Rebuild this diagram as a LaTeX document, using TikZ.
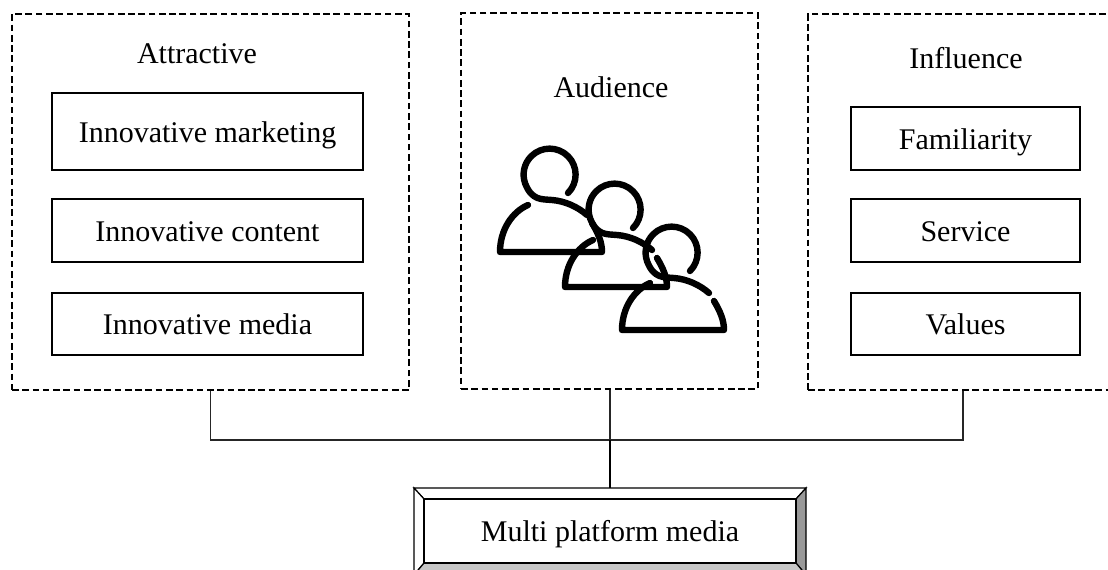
\documentclass[tikz,border=0pt]{standalone}
\usepackage{fontspec}
\setmainfont{Liberation Serif}
\tikzset{
	panel/.style={draw,line width=0.85pt,dash pattern={on 5pt off 2.7pt},inner sep=0pt},
	itembox/.style={draw,line width=0.9pt,inner sep=0pt,text height=19pt,text depth=3.2pt,font=\fontsize{22.5}{26}\selectfont},
	headline/.style={inner sep=0pt,font=\fontsize{22.5}{26}\selectfont},
	link/.style={line width=1pt,color=black!85},
	bevel/.style={draw,line width=0.9pt},
	person/.pic={
		\draw [line width=4.8pt,line cap=round,line join=round] (18,18) arc (45:-200:26) .. controls (-18,26) and (-8,24) .. (2,25) .. controls (15,26) and (28,32) .. (37,40) ;
		\draw [line width=4.8pt,line cap=round,line join=round] (-22,30) .. controls (-38,37) and (-50,55) .. (-50,77) -- (52,77) .. controls (52,67) and (48,58) .. (42,48) ;
	}
}
\begin{document}
\begin{tikzpicture}[x=0.75pt,y=0.75pt,yscale=-1,xscale=1]
	\useasboundingbox (0,0) rectangle (1108,569);
	
	%Dashed panels
	\node [panel,minimum width=297.75pt,minimum height=282pt] (attrbox) at (210.5,202) {};
	\node [panel,minimum width=222.75pt,minimum height=282pt] (audbox) at (609.5,201) {};
	\node [panel,minimum width=232.5pt,minimum height=282pt] (inflbox) at (963,202) {};
	
	%Panel titles
	\node [headline] (attrtitle) at (197,54) {Attractive};
	\node [headline] (audtitle) at (611,87) {Audience};
	\node [headline] (infltitle) at (966,58) {Influence};
	
	%Left items
	\node [itembox,minimum width=233.25pt,minimum height=57.75pt] (marketing) at (207.5,131.5) {Innovative marketing};
	\node [itembox,minimum width=233.25pt,minimum height=47.25pt] (content) at (207.5,230.5) {Innovative content};
	\node [itembox,minimum width=233.25pt,minimum height=46.5pt] (media) at (207.5,324) {Innovative media};
	
	%Right items
	\node [itembox,minimum width=171.75pt,minimum height=47.25pt] (familiarity) at (965.5,138.5) {Familiarity};
	\node [itembox,minimum width=171.75pt,minimum height=47.25pt] (service) at (965.5,230.5) {Service};
	\node [itembox,minimum width=171.75pt,minimum height=46.5pt] (values) at (965.5,324) {Values};
	
	%Audience icon
	\pic [yscale=-1] at (550,175) {person};
	\pic [yscale=-1] at (615,210) {person};
	\pic [yscale=-1] at (672,253) {person};
	
	%Bevelled box
	\draw [bevel,fill=white] (414,488) -- (806,488) -- (796,499) -- (424,499) -- cycle ;
	\draw [bevel,fill=white] (414,488) -- (424,499) -- (424,563) -- (414,575) -- cycle ;
	\draw [bevel,fill=black!40] (806,488) -- (796,499) -- (796,563) -- (806,575) -- cycle ;
	\draw [bevel,fill=black!22] (424,563) -- (796,563) -- (806,575) -- (414,575) -- cycle ;
	\node [itembox,minimum width=279pt,minimum height=48pt] (platform) at (610,531) {Multi platform media};
	
	%Connectors
	\coordinate (bus) at (610,440);
	\draw [link] (attrbox.south) |- (bus) ;
	\draw [link] (inflbox.south) |- (bus) ;
	\draw [link] (bus |- audbox.south) -- (bus) ;
	\draw [link,line width=1.5pt,color=black] (bus) -- (bus |- 0,488) ;
\end{tikzpicture}
\end{document}
